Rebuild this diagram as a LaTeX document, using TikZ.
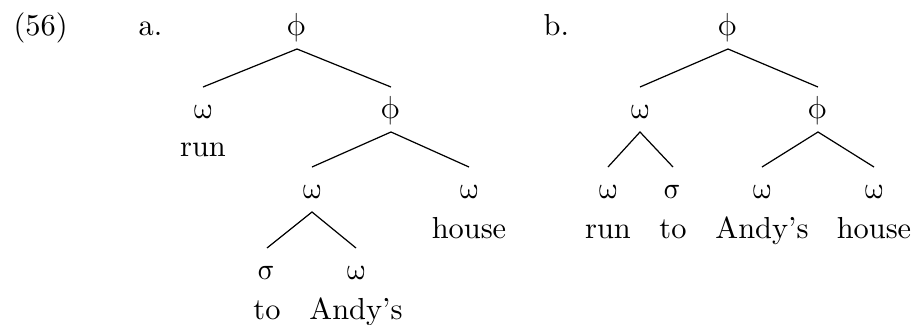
\documentclass[tikz,border=0pt]{standalone}
\usepackage{unicode-math}
\setmathfont{Latin Modern Math}
\begin{document}
\begin{tikzpicture}[x=0.329pt,y=-0.329pt,
  lab/.style={anchor=base,inner sep=0pt,outer sep=0pt,text height=10.2pt,text depth=4.6pt},
  phi/.style={lab,font=\fontsize{10.5}{12}\selectfont},
  wd/.style={anchor=base,inner sep=0pt,font=\fontsize{10}{12}\selectfont},
  edge/.style={draw=black,line width=0.4pt}]
\useasboundingbox (0,0) rectangle (914,324);
% labels
\node[wd,anchor=base west] (ex) at (13,35) {(56)};
\node[wd,anchor=base west] (la) at (138,35) {a.};
\node[wd,anchor=base west] (lb) at (543,35) {b.};
% tree a
\node[phi] (a0) at (297,35) {$\upphi$};
\node[lab] (a1) at (203,118) {$\upomega$};
\node[wd] (a1w) at (203,156) {run};
\node[phi] (a2) at (391,118) {$\upphi$};
\node[lab] (a3) at (312,198) {$\upomega$};
\node[lab] (a4) at (469,198) {$\upomega$};
\node[wd] (a4w) at (469,238) {house};
\node[lab] (a5) at (267,279) {$\upsigma$};
\node[wd] (a5w) at (267,319) {to};
\node[lab] (a6) at (356,279) {$\upomega$};
\node[wd] (a6w) at (356,319) {Andy’s};
\draw[edge] (a1.north) -- (a0.south) -- (a2.north);
\draw[edge] (a3.north) -- (a2.south) -- (a4.north);
\draw[edge] (a5.north) -- (a3.south) -- (a6.north);
% tree b
\node[phi] (b0) at (728,35) {$\upphi$};
\node[lab] (b1) at (640,118) {$\upomega$};
\node[phi] (b2) at (818,118) {$\upphi$};
\node[lab] (b3) at (608,198) {$\upomega$};
\node[wd] (b3w) at (608,238) {run};
\node[lab] (b4) at (673,198) {$\upsigma$};
\node[wd] (b4w) at (673,238) {to};
\node[lab] (b5) at (762,198) {$\upomega$};
\node[wd] (b5w) at (762,238) {Andy’s};
\node[lab] (b6) at (874,198) {$\upomega$};
\node[wd] (b6w) at (874,238) {house};
\draw[edge] (b1.north) -- (b0.south) -- (b2.north);
\draw[edge] (b3.north) -- (b1.south) -- (b4.north);
\draw[edge] (b5.north) -- (b2.south) -- (b6.north);
\end{tikzpicture}
\end{document}
